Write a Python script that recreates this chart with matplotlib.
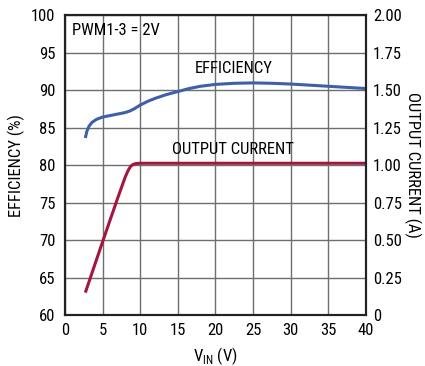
import matplotlib.pyplot as plt
from matplotlib import font_manager

# efficiency vs input voltage
vin_eff = [2.7, 2.9, 3.2, 3.6, 4.2, 5.0, 6.0, 7.0, 8.0, 8.6, 9.2, 10.0, 11.0, 12.0, 13.5,
           15.0, 16.5, 18.0, 20.0, 22.5, 25.0, 27.5, 30.0, 32.5, 35.0, 37.5, 40.0]
eff = [83.6, 84.5, 85.2, 85.7, 86.1, 86.4, 86.6, 86.8, 87.0, 87.2, 87.5, 88.0, 88.5, 88.9, 89.4,
       89.8, 90.2, 90.5, 90.75, 90.9, 90.95, 90.9, 90.8, 90.65, 90.5, 90.35, 90.2]

# output current vs input voltage
vin_cur = [2.7, 5.0, 7.0, 8.0, 8.4, 8.7, 9.0, 9.4, 9.9, 10.5, 15.0, 20.0, 30.0, 40.0]
cur = [0.15, 0.49, 0.78, 0.92, 0.965, 0.99, 1.003, 1.01, 1.012, 1.012, 1.012, 1.012, 1.012, 1.012]

x_ticks = [0, 5, 10, 15, 20, 25, 30, 35, 40]
eff_ticks = [60, 65, 70, 75, 80, 85, 90, 95, 100]
cur_ticks = [0, 0.25, 0.5, 0.75, 1.0, 1.25, 1.5, 1.75, 2.0]
cur_labels = ["0", "0.25", "0.50", "0.75", "1.00", "1.25", "1.50", "1.75", "2.00"]

# pick a narrow sans face if one is around
installed = {f.name for f in font_manager.fontManager.ttflist}
fam = next((n for n in ["Roboto Condensed", "Archivo Narrow", "Fira Sans Condensed", "Liberation Sans"]
            if n in installed), "DejaVu Sans")
plt.rcParams["font.family"] = [fam, "DejaVu Sans"]
fs = 12

blue = "#3f5fa8"
red = "#a3163f"

fig = plt.figure(figsize=(4.25, 3.66), dpi=100)
ax = fig.add_axes([0.153, 0.139, 0.708, 0.82])
ax2 = ax.twinx()

ax.set_xlim(0, 40)
ax.set_ylim(60, 100)
ax2.set_ylim(0, 2)
ax.set_xticks(x_ticks)
ax.set_yticks(eff_ticks)
ax2.set_yticks(cur_ticks)
ax2.set_yticklabels(cur_labels)
ax.grid(True, color="#6e6e6e", lw=1)
for a in (ax, ax2):
    a.tick_params(length=0, labelsize=fs)
    for s in a.spines.values():
        s.set_linewidth(1.5)
        s.set_color("#222222")
ax.tick_params(axis="y", pad=7)
ax.tick_params(axis="x", pad=6)
ax2.tick_params(axis="y", pad=5)

ax.plot(vin_eff, eff, color=blue, lw=2.2, solid_capstyle="butt")
ax2.plot(vin_cur, cur, color=red, lw=2.2, solid_capstyle="butt")

ax.text(0.9, 98, "PWM1-3 = 2V", fontsize=fs, va="center")
ax.text(17.3, 92.9, "EFFICIENCY", fontsize=fs, va="center")
ax.text(14.2, 82.1, "OUTPUT CURRENT", fontsize=fs, va="center")

ax.set_xlabel("V$_{\\mathregular{IN}}$ (V)", fontsize=fs, labelpad=5)
ax.set_ylabel("EFFICIENCY (%)", fontsize=fs, labelpad=4)
ax2.set_ylabel("OUTPUT CURRENT (A)", fontsize=fs, rotation=270, labelpad=14)

fig.savefig("out.png", dpi=100)
